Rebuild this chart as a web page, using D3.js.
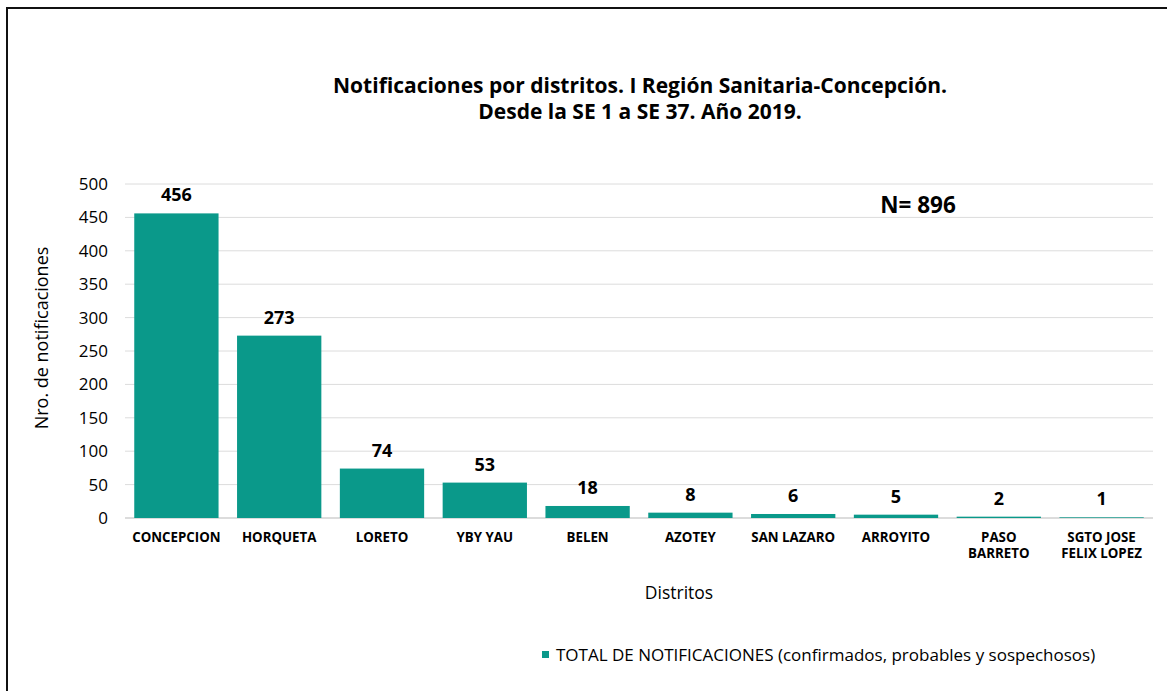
<!DOCTYPE html>
<html lang="es">
<head>
<meta charset="UTF-8">
<title>Notificaciones por distritos</title>
<script src="https://cdn.jsdelivr.net/npm/d3@7"></script>
<style>
  body { margin: 0; background: #fff; }
  text { font-family: "Open Sans", "Noto Sans", sans-serif; fill: #000; }
</style>
</head>
<body>
<svg id="main" width="1167" height="691"></svg>
<script>
  // data
  const distritos = [["CONCEPCION"], ["HORQUETA"], ["LORETO"], ["YBY YAU"], ["BELEN"],
                     ["AZOTEY"], ["SAN LAZARO"], ["ARROYITO"], ["PASO", "BARRETO"], ["SGTO JOSE", "FELIX LOPEZ"]];
  const notificaciones = [456, 273, 74, 53, 18, 8, 6, 5, 2, 1];
  const yTicks = [0, 50, 100, 150, 200, 250, 300, 350, 400, 450, 500];
  const serieNombre = "TOTAL DE NOTIFICACIONES (confirmados, probables y sospechosos)";
  const totalN = "N= 896";

  const barColor = "#0a998a";
  const svg = d3.select("svg#main");

  const plotLeft = 125, plotRight = 1153, plotTop = 184, plotBottom = 518;

  // outer frame (only top and left edges visible)
  svg.append("rect")
     .attr("x", 7).attr("y", 8)
     .attr("width", 1200).attr("height", 720)
     .attr("fill", "none").attr("stroke", "#111").attr("stroke-width", 2);

  const x = d3.scaleBand()
      .domain(d3.range(distritos.length))
      .range([plotLeft, plotRight])
      .paddingInner(0.18).paddingOuter(0.09);

  const y = d3.scaleLinear().domain([0, 500]).range([plotBottom, plotTop]);

  // gridlines
  svg.append("g")
     .selectAll("line")
     .data(yTicks)
     .join("line")
     .attr("x1", plotLeft).attr("x2", plotRight)
     .attr("y1", d => y(d)).attr("y2", d => y(d))
     .attr("stroke", d => d === 0 ? "#d0d0d0" : "#dcdcdc")
     .attr("stroke-width", d => d === 0 ? 1.5 : 1);

  // y axis labels
  const yAxis = svg.append("g")
     .attr("transform", "translate(" + plotLeft + ",0)")
     .call(d3.axisLeft(y).tickValues(yTicks).tickSize(0).tickPadding(17));
  yAxis.select(".domain").remove();
  yAxis.selectAll("text")
       .style("font-size", "17px")
       .style("font-family", "'Open Sans', sans-serif")
       .attr("fill", "#222");

  // bars
  svg.append("g")
     .selectAll("rect")
     .data(notificaciones)
     .join("rect")
     .attr("x", (d, i) => x(i))
     .attr("y", d => y(d))
     .attr("width", x.bandwidth())
     .attr("height", d => y(0) - y(d))
     .attr("fill", barColor);

  // value labels
  svg.append("g")
     .selectAll("text")
     .data(notificaciones)
     .join("text")
     .attr("x", (d, i) => x(i) + x.bandwidth() / 2)
     .attr("y", d => y(d) - 12)
     .attr("text-anchor", "middle")
     .style("font-size", "18px")
     .style("font-weight", "bold")
     .text(d => d);

  // category labels
  const cats = svg.append("g")
     .selectAll("text")
     .data(distritos)
     .join("text")
     .attr("x", (d, i) => x(i) + x.bandwidth() / 2)
     .attr("y", 542)
     .attr("text-anchor", "middle")
     .style("font-size", "13.3px")
     .style("font-weight", "bold");
  cats.selectAll("tspan")
      .data(d => d)
      .join("tspan")
      .attr("x", function() { return this.parentNode.getAttribute("x"); })
      .attr("dy", (d, i) => i === 0 ? 0 : 15.5)
      .text(d => d);

  // title
  const title = svg.append("text")
     .attr("x", 640).attr("y", 93)
     .attr("text-anchor", "middle")
     .style("font-size", "21px")
     .style("font-weight", "bold");
  title.append("tspan").attr("x", 640).text("Notificaciones por distritos. I Región Sanitaria-Concepción.");
  title.append("tspan").attr("x", 640).attr("dy", 26).text("Desde la SE 1 a SE 37. Año 2019.");

  // axis titles
  svg.append("text")
     .attr("transform", "translate(48,338) rotate(-90)")
     .attr("text-anchor", "middle")
     .style("font-size", "18px")
     .attr("fill", "#222")
     .text("Nro. de notificaciones");

  svg.append("text")
     .attr("x", 679).attr("y", 599)
     .attr("text-anchor", "middle")
     .style("font-size", "17.5px")
     .attr("fill", "#222")
     .text("Distritos");

  // total annotation
  svg.append("text")
     .attr("x", 918).attr("y", 213)
     .attr("text-anchor", "middle")
     .style("font-size", "22.5px")
     .style("font-weight", "bold")
     .text(totalN);

  // legend
  svg.append("rect")
     .attr("x", 542).attr("y", 651)
     .attr("width", 7).attr("height", 7)
     .attr("fill", barColor);
  svg.append("text")
     .attr("x", 556).attr("y", 661)
     .style("font-size", "17px")
     .attr("fill", "#222")
     .text(serieNombre);
</script>
</body>
</html>
